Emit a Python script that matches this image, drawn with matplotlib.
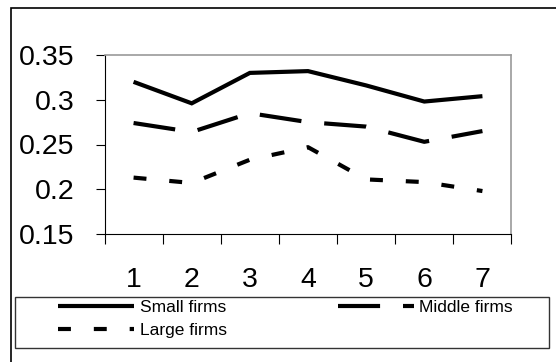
import matplotlib
matplotlib.use("Agg")
import matplotlib.pyplot as plt
from matplotlib.patches import Rectangle

plt.rcParams['font.family'] = ['Liberation Sans', 'DejaVu Sans']

# data
periods = [1, 2, 3, 4, 5, 6, 7]
small_firms = [0.320, 0.296, 0.330, 0.332, 0.316, 0.298, 0.304]
middle_firms = [0.274, 0.264, 0.285, 0.275, 0.270, 0.253, 0.265]
large_firms = [0.213, 0.207, 0.233, 0.247, 0.211, 0.208, 0.198]
y_ticks = [0.15, 0.2, 0.25, 0.3, 0.35]
y_labels = ['0.15', '0.2', '0.25', '0.3', '0.35']

W, H = 556, 362
fig = plt.figure(figsize=(W / 100, H / 100), dpi=100)

# axes placed in pixel terms of the original picture
left, right, top, bottom = 104.5, 511.5, 55, 234
ax = fig.add_axes([left / W, 1 - bottom / H, (right - left) / W, (bottom - top) / H])

lw = 3
l_small, = ax.plot(periods, small_firms, color='black', lw=lw, solid_capstyle='butt',
                   solid_joinstyle='miter', label='Small firms')
l_mid, = ax.plot(periods, middle_firms, color='black', lw=lw, dashes=(10.1, 5.5),
                 dash_capstyle='butt', label='Middle firms')
l_large, = ax.plot(periods, large_firms, color='black', lw=lw, dashes=(3.1, 5.5),
                   dash_capstyle='butt', label='Large firms')

ax.set_xlim(0.5, 7.5)
ax.set_ylim(0.15, 0.35)
ax.set_yticks(y_ticks)
ax.set_yticklabels(y_labels)
ax.set_xticks(periods)
ax.set_xticks([p - 0.5 for p in periods] + [7.5], minor=True)

ax.tick_params(axis='y', which='major', direction='out', length=6.5, width=0.8,
               color='black', pad=15, labelsize=20.5)
ax.tick_params(axis='x', which='major', length=0, pad=24, labelsize=20.5)
ax.tick_params(axis='x', which='minor', direction='out', length=7.5, width=0.8,
               color='black')

for side in ['top', 'right']:
    ax.spines[side].set_color('#9a9a9a')
    ax.spines[side].set_linewidth(1.2)
for side in ['left', 'bottom']:
    ax.spines[side].set_color('black')
    ax.spines[side].set_linewidth(0.8)

# outer chart frame (runs off the right and bottom edges)
fig.patches.append(Rectangle((11 / W, -0.1), 1.1, 1 - 8 / H + 0.1,
                             transform=fig.transFigure, fill=False,
                             edgecolor='black', lw=1.2))
# legend frame
fig.patches.append(Rectangle((15 / W, 1 - 348 / H), (549 - 15) / W, (348 - 297) / H,
                             transform=fig.transFigure, fill=False,
                             edgecolor='#333333', lw=1.0))

# legend fills column by column, so order handles to read row by row
fig.legend([l_small, l_large, l_mid], ['Small firms', 'Large firms', 'Middle firms'],
           loc='upper left', bbox_to_anchor=(58 / W, 1 - 345 / H, (513 - 58) / W, (345 - 300) / H),
           mode='expand', ncol=2, frameon=False, fontsize=12.5, borderpad=0,
           borderaxespad=0, handlelength=4.4, handletextpad=0.3,
           labelspacing=0.45, columnspacing=1.0)

fig.savefig('out.png', dpi=100, facecolor='white')
